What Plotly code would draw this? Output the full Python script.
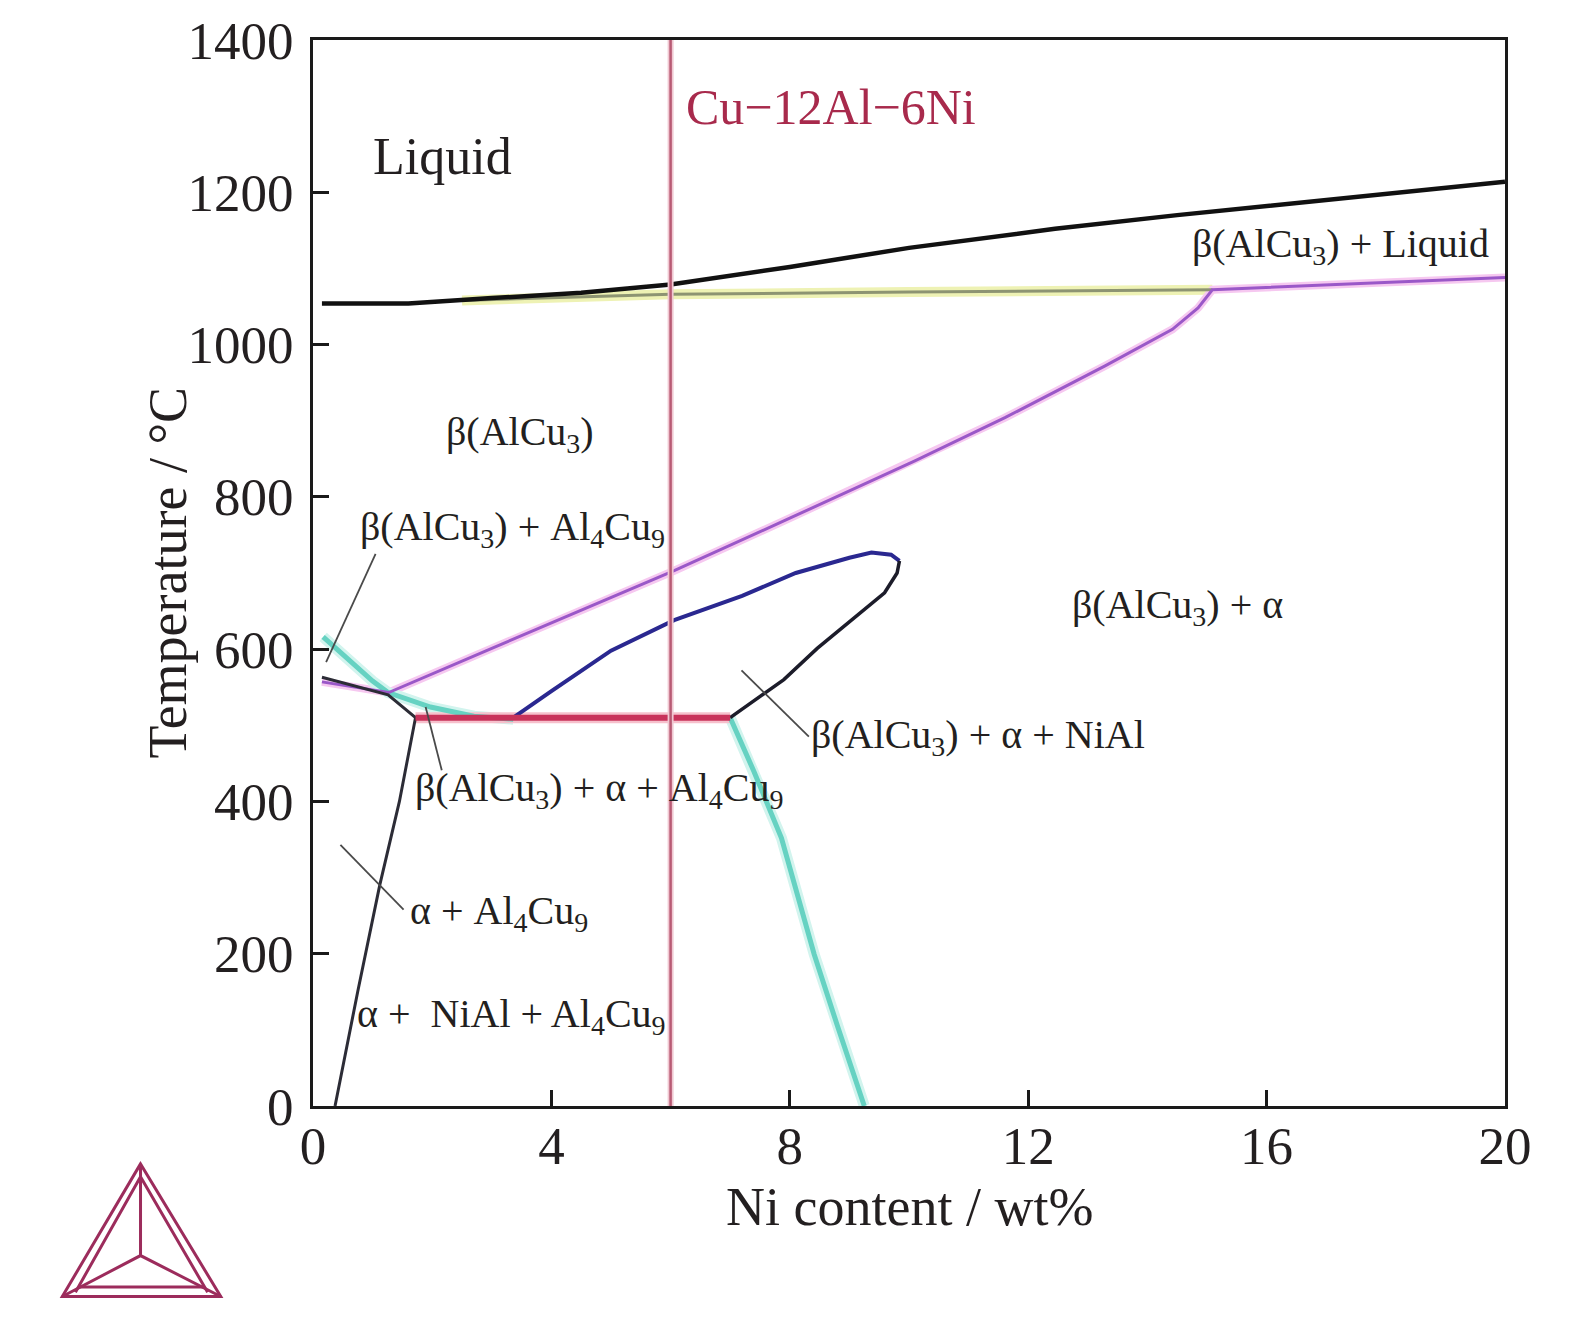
import plotly.graph_objects as go

# ---- data (Ni wt%, temperature degC) ----
liquidus_x = [0.15, 1.6, 3.0, 4.5, 6.0, 8.0, 10.0, 12.45, 14.5, 16.37, 18.0, 20.0]
liquidus_t = [1054, 1054, 1061, 1068, 1079, 1102, 1127, 1152, 1170, 1185, 1198, 1214]

solidus_x = [2.5, 6.0, 10.0, 15.09]
solidus_t = [1058, 1066, 1069, 1072]

beta_x = [0.15, 1.27, 3.0, 4.7, 6.06, 8.0, 10.09, 11.61, 13.29, 14.42, 14.85, 15.09, 20.0]
beta_t = [557, 543, 601, 658, 703, 772, 847, 904, 972, 1020, 1048, 1072, 1088]

al4cu9_left_x = [0.17, 0.6, 1.0, 1.26, 1.97, 2.7, 3.36]
al4cu9_left_t = [616, 585, 558, 543, 524, 512, 508]
al4cu9_right_x = [7.0, 7.4, 7.86, 8.41, 8.8, 9.25]
al4cu9_right_t = [510, 439, 352, 199, 105, 0]

nial_x = [3.36, 4.0, 5.0, 6.06, 7.2, 8.1, 9.0, 9.37, 9.7, 9.84]
nial_t = [510, 545, 598, 638, 670, 700, 720, 727, 724, 716]

nial_back_x = [9.84, 9.8, 9.59, 8.46, 7.9, 7.0]
nial_back_t = [716, 700, 674, 601, 560, 510]

alpha_x = [0.15, 1.26, 1.72, 1.45, 1.12, 0.75, 0.37]
alpha_t = [563, 540, 510, 400, 290, 150, 0]

eutectoid_x = [1.72, 7.0]
eutectoid_t = [510, 510]

alloy_ni = 6.0

# leader lines for region labels
leaders = [
    ([0.22, 1.05], [583, 725]),
    ([1.89, 2.16], [524, 441]),
    ([0.46, 1.52], [343, 258]),
    ([7.19, 8.32], [572, 485]),
]

# region labels: text, x, T, anchor, size
labels = [
    ("Liquid", 0.98, 1247, "left", 52),
    ("β(AlCu<sub>3</sub>)", 2.19, 883, "left", 40),
    ("β(AlCu<sub>3</sub>) + Liquid", 19.76, 1129, "right", 40),
    ("β(AlCu<sub>3</sub>) + Al<sub>4</sub>Cu<sub>9</sub>", 0.76, 758, "left", 40),
    ("β(AlCu<sub>3</sub>) + α", 12.7, 655, "left", 40),
    ("β(AlCu<sub>3</sub>) + α + NiAl", 8.33, 485, "left", 40),
    ("β(AlCu<sub>3</sub>) + α + Al<sub>4</sub>Cu<sub>9</sub>", 1.68, 415, "left", 40),
    ("α + Al<sub>4</sub>Cu<sub>9</sub>", 1.6, 254, "left", 40),
    ("α +  NiAl + Al<sub>4</sub>Cu<sub>9</sub>", 0.71, 118, "left", 40),
]

x_ticks = [0, 4, 8, 12, 16, 20]
y_ticks = [0, 200, 400, 600, 800, 1000, 1200, 1400]

FONT = "Liberation Serif"
TXT = "#231f20"

fig = go.Figure()


def line(x, y, color, width, opacity=1.0):
    fig.add_trace(go.Scatter(x=x, y=y, mode="lines", opacity=opacity,
                             line=dict(color=color, width=width),
                             hoverinfo="skip", showlegend=False))


# soft halos under the coloured lines
line(solidus_x, solidus_t, "#eef2b4", 10)
line(beta_x, beta_t, "#f6c8f0", 8)
line(al4cu9_left_x, al4cu9_left_t, "#d2f4ee", 11)
line(al4cu9_right_x, al4cu9_right_t, "#d2f4ee", 11)
line(eutectoid_x, eutectoid_t, "#f6c0cc", 11)

line(solidus_x, solidus_t, "#8d9472", 3)
line(liquidus_x, liquidus_t, "#111111", 4.5)
line(al4cu9_left_x, al4cu9_left_t, "#66d2c2", 5)
line(al4cu9_right_x, al4cu9_right_t, "#66d2c2", 5)
line(beta_x, beta_t, "#9a58c8", 3)
line(nial_x, nial_t, "#2a2890", 4)
line(nial_back_x, nial_back_t, "#1c1c2a", 3.5)
line(alpha_x, alpha_t, "#2c2c36", 3)
line(eutectoid_x, eutectoid_t, "#c8325a", 6)

# alloy composition marker
line([alloy_ni, alloy_ni], [0, 1400], "#f0c8d2", 6)
line([alloy_ni, alloy_ni], [0, 1400], "#b85a74", 2.5)

for lx, ly in leaders:
    line(lx, ly, "#4a4a4a", 1.8)

for text, x, t, anchor, size in labels:
    fig.add_annotation(x=x, y=t, text=text, showarrow=False, xanchor=anchor,
                       yanchor="middle", font=dict(family=FONT, size=size, color=TXT))

fig.add_annotation(x=6.22, y=1312, text="Cu−12Al−6Ni", showarrow=False,
                   xanchor="left", yanchor="middle",
                   font=dict(family=FONT, size=50, color="#a82a4c"))

# axis titles
fig.add_annotation(x=0.5, y=-0.095, xref="paper", yref="paper",
                   text="Ni content / wt%", showarrow=False,
                   xanchor="center", yanchor="middle",
                   font=dict(family=FONT, size=54, color=TXT))
fig.add_annotation(x=-0.122, y=0.5, xref="paper", yref="paper",
                   text="Temperature / °C", showarrow=False, textangle=-90,
                   xanchor="center", yanchor="middle",
                   font=dict(family=FONT, size=54, color=TXT))

# Thermo-Calc style logo in the lower-left corner
logo = "#9c2c5c"
ax_, ay_ = -0.1447, -0.0543
bl_x, bl_y = -0.2103, -0.1787
br_x, br_y = -0.0774, -0.1787
cx_, cy_ = -0.1447, -0.1403
paths = [
    f"M {ax_},{ay_} L {bl_x},{bl_y} L {br_x},{br_y} Z",
    f"M {ax_},{ay_ - 0.012} L {bl_x + 0.011},{bl_y + 0.004} M {ax_},{ay_ - 0.012} L {br_x - 0.011},{br_y + 0.004}",
    f"M {ax_},{ay_} L {cx_},{cy_} M {bl_x},{bl_y} L {cx_},{cy_} L {br_x},{br_y}",
    f"M {bl_x + 0.014},{bl_y + 0.009} L {br_x - 0.014},{br_y + 0.009}",
]
for p in paths:
    fig.add_shape(type="path", path=p, xref="paper", yref="paper",
                  line=dict(color=logo, width=3))

axis_common = dict(
    showline=True, linecolor="#1a1a1a", linewidth=3, mirror=True,
    ticks="inside", ticklen=16, tickwidth=2.5, tickcolor="#1a1a1a",
    showgrid=False, zeroline=False, ticklabeloverflow="allow",
    tickfont=dict(family=FONT, size=53, color=TXT),
)

fig.update_xaxes(range=[0, 20], tickvals=x_ticks, ticklabelstandoff=-9, **axis_common)
fig.update_yaxes(range=[0, 1400], tickvals=y_ticks, ticklabelstandoff=6, **axis_common)

fig.update_layout(
    width=1575, height=1323,
    margin=dict(l=313, r=70, t=31, b=217),
    plot_bgcolor="white", paper_bgcolor="white",
    showlegend=False,
)

fig.write_html("out.html", config={"displayModeBar": False},
               post_script="document.body.style.margin='0px';document.body.style.overflow='hidden';")
